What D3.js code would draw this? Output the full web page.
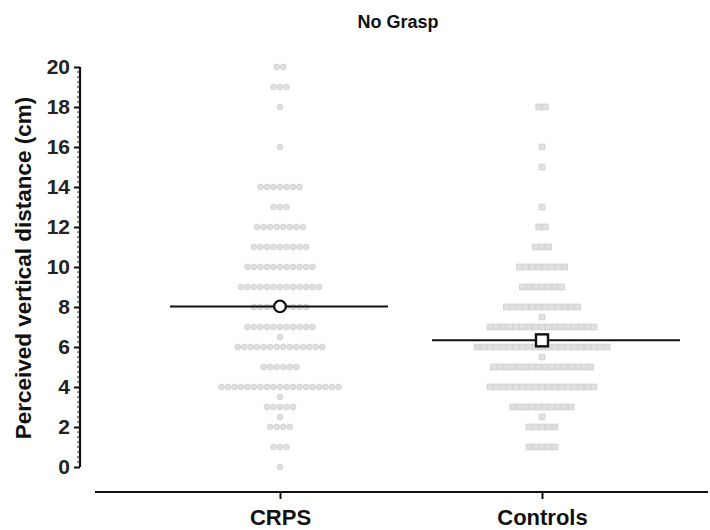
<!DOCTYPE html>
<html><head><meta charset="utf-8">
<script src="https://cdn.jsdelivr.net/npm/d3@7"></script>
<style>
html,body{margin:0;padding:0;background:#fff;}
text{font-family:"Liberation Sans",Arial,sans-serif;}
</style></head>
<body><svg id="c" width="710" height="530"></svg>
<script>
const categories = ["CRPS", "Controls"];
const crpsValues = [20,19,18,16,14,13,12,11,10,9,8,7,6.5,6,5,4,3.5,3,2.5,2,1,0];
const crpsCounts = [2,3,1,1,7,3,8,9,11,13,9,11,1,14,6,19,1,5,1,4,3,1];
const ctrlValues = [18,16,15,13,12,11,10,9,8,7.5,7,6,5.5,5,4,3,2.5,2,1];
const ctrlCounts = [2,1,1,1,2,3,8,7,12,1,17,21,1,16,17,10,1,5,5];
const yTicks = [0,2,4,6,8,10,12,14,16,18,20];
const title = "No Grasp";
const yLabel = "Perceived vertical distance (cm)";

const svg = d3.select("#c");
const x = d3.scalePoint().domain(categories).range([280, 542]);
const y = d3.scaleLinear().domain([0, 20]).range([467, 67]);
const spacing = 6.5;

function expand(vals, counts){
  const pts = [];
  vals.forEach((v,i)=>{
    const n = counts[i];
    for(let k=0;k<n;k++) pts.push({v:v, off:(k-(n-1)/2)*spacing});
  });
  return pts;
}
const groups = [
  {name:"CRPS", pts:expand(crpsValues, crpsCounts), shape:"circle"},
  {name:"Controls", pts:expand(ctrlValues, ctrlCounts), shape:"square"}
];
groups.forEach(g=>{ g.mean = d3.sum(g.pts,d=>d.v)/g.pts.length; });

// title
svg.append("text").attr("x",398).attr("y",28).attr("text-anchor","middle")
  .style("font-size","18px").style("font-weight","bold").attr("fill","#111").text(title);

// y axis
const yAxis = d3.axisLeft(y).tickValues(yTicks).tickSize(6).tickPadding(4).tickFormat(d3.format("d"));
const ga = svg.append("g").attr("transform","translate(80,0)").call(yAxis);
ga.attr("font-size",null).attr("font-family",null);
ga.select(".domain").attr("stroke","#111").attr("stroke-width",2.2).attr("d","M0,"+y(20)+"V"+y(0));
ga.selectAll(".tick line").attr("stroke","#111").attr("stroke-width",2);
ga.selectAll(".tick text").style("font-size","21px").style("font-weight","bold").attr("fill","#222");
// minor ticks
const minor = d3.range(0, 20.001, 0.25).filter(v=>Math.abs(v%2)>1e-6);
svg.append("g").selectAll("line").data(minor).join("line")
  .attr("x1",77).attr("x2",80).attr("y1",d=>y(d)).attr("y2",d=>y(d))
  .attr("stroke","#222").attr("stroke-width",1);

// y label
svg.append("text").attr("transform","translate(31,268) rotate(-90)").attr("text-anchor","middle")
  .style("font-size","22.5px").style("font-weight","bold").attr("fill","#111").text(yLabel);

// x axis
const xAxis = d3.axisBottom(x).tickSize(7).tickPadding(10);
const gx = svg.append("g").attr("transform","translate(0,492)").call(xAxis);
gx.attr("font-size",null).attr("font-family",null);
gx.select(".domain").attr("stroke","#111").attr("stroke-width",2).attr("d","M95,0H708");
gx.selectAll(".tick line").attr("stroke","#111").attr("stroke-width",2);
gx.selectAll(".tick text").style("font-size","22px").style("font-weight","bold").attr("fill","#111");

// dots
groups.forEach(g=>{
  const cx = x(g.name);
  const layer = svg.append("g");
  if(g.shape==="circle"){
    layer.selectAll("circle").data(g.pts).join("circle")
      .attr("cx",d=>cx+d.off).attr("cy",d=>y(d.v)).attr("r",2.9)
      .attr("fill","#e0e0e0").attr("stroke","#cfcfcf").attr("stroke-width",0.8);
  } else {
    layer.selectAll("rect").data(g.pts).join("rect")
      .attr("x",d=>cx+d.off-2.9).attr("y",d=>y(d.v)-2.9).attr("width",5.8).attr("height",5.8)
      .attr("fill","#e0e0e0").attr("stroke","#cfcfcf").attr("stroke-width",0.8);
  }
});

// mean lines & markers
const halfW = {CRPS:[110,108], Controls:[110,138]};
groups.forEach(g=>{
  const cx = x(g.name), cy = y(g.mean);
  svg.append("line").attr("x1",cx-halfW[g.name][0]).attr("x2",cx+halfW[g.name][1])
    .attr("y1",cy).attr("y2",cy).attr("stroke","#111").attr("stroke-width",2);
  if(g.shape==="circle"){
    svg.append("circle").attr("cx",cx).attr("cy",cy).attr("r",5.8)
      .attr("fill","#fff").attr("stroke","#111").attr("stroke-width",2.2);
  } else {
    svg.append("rect").attr("x",cx-6).attr("y",cy-6).attr("width",12).attr("height",12)
      .attr("fill","#fff").attr("stroke","#111").attr("stroke-width",2.4);
  }
});
</script></body></html>
